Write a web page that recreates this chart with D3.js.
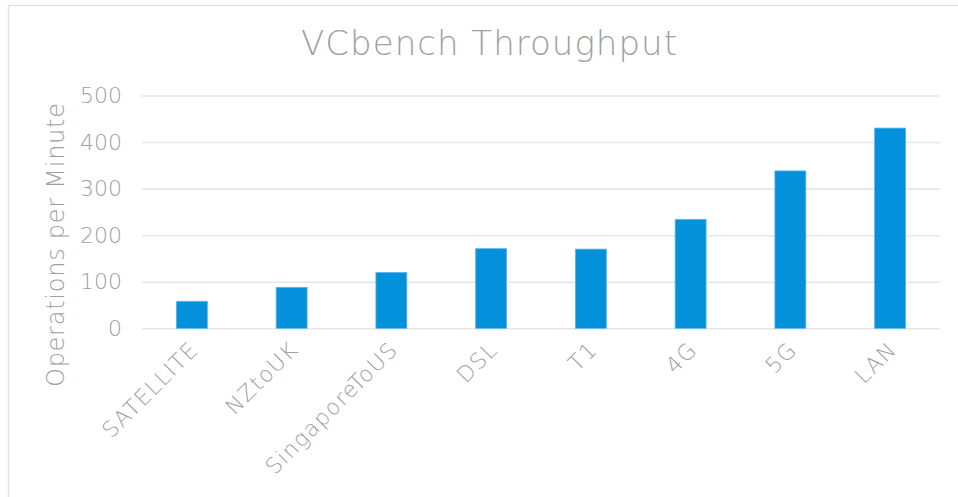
<!DOCTYPE html>
<html>
<head>
<meta charset="utf-8">
<script src="https://cdn.jsdelivr.net/npm/d3@7"></script>
<style>
	body { margin: 0; background: #fff; }
	text { font-family: "DejaVu Sans", sans-serif; font-weight: 200; fill: #a0a0a0; }
</style>
</head>
<body>
<div id="chart"></div>
<script>
// chart data
var categories = ["SATELLITE", "NZtoUK", "SingaporeToUS", "DSL", "T1", "4G", "5G", "LAN"];
var opsPerMinute = [58, 88, 120, 171, 170, 234, 338, 430];
var yTicks = [0, 100, 200, 300, 400, 500];

var w = 958,
	h = 497,
	plotLeft = 142,
	plotRight = 940,
	plotTop = 95.5,
	plotBottom = 328.3;

var svg = d3.select("#chart")
	.append("svg")
	.attr("width", w)
	.attr("height", h);

// outer frame
svg.append("rect")
	.attr("x", 8.5)
	.attr("y", 5.5)
	.attr("width", 980)
	.attr("height", 520)
	.attr("fill", "none")
	.attr("stroke", "#e2e2e2")
	.attr("stroke-width", 1.5);

var x = d3.scaleBand()
	.domain(categories)
	.range([plotLeft, plotRight])
	.paddingInner(0.69)
	.paddingOuter(0.345);

var y = d3.scaleLinear()
	.domain([0, 500])
	.range([plotBottom, plotTop]);

// gridlines + y labels
var yAxis = svg.append("g")
	.attr("transform", "translate(" + plotLeft + ",0)")
	.call(d3.axisLeft(y).tickValues(yTicks).tickSize(-(plotRight - plotLeft)).tickPadding(20));
yAxis.select(".domain").remove();
yAxis.selectAll(".tick line")
	.attr("stroke", "#e6e6e6")
	.attr("stroke-width", 1.6);
yAxis.selectAll(".tick text")
	.attr("font-size", 22)
	.attr("font-family", null)
	.attr("fill", null);

svg.selectAll("rect.bar")
	.data(opsPerMinute)
	.enter().append("rect")
	.attr("class", "bar")
	.attr("x", function(d, i) { return x(categories[i]); })
	.attr("y", function(d) { return y(d); })
	.attr("width", x.bandwidth())
	.attr("height", function(d) { return y(0) - y(d); })
	.attr("fill", "#0291da")
	.attr("stroke", "#5ab5e6")
	.attr("stroke-width", 0.8);

// category labels, rotated
svg.selectAll("text.cat")
	.data(categories)
	.enter().append("text")
	.attr("class", "cat")
	.attr("transform", function(d) {
		return "translate(" + (x(d) + x.bandwidth() / 2 - 3) + ",340) rotate(-45)";
	})
	.attr("text-anchor", "end")
	.attr("dy", "0.7em")
	.attr("font-size", 22)
	.attr("letter-spacing", 1.3)
	.text(function(d) { return d; });

svg.append("text")
	.attr("x", 489)
	.attr("y", 55)
	.attr("text-anchor", "middle")
	.attr("font-size", 34)
	.attr("textLength", 376)
	.text("VCbench Throughput");

svg.append("text")
	.attr("transform", "translate(64,245) rotate(-90)")
	.attr("text-anchor", "middle")
	.attr("font-size", 24)
	.attr("textLength", 284)
	.text("Operations per Minute");
</script>
</body>
</html>
